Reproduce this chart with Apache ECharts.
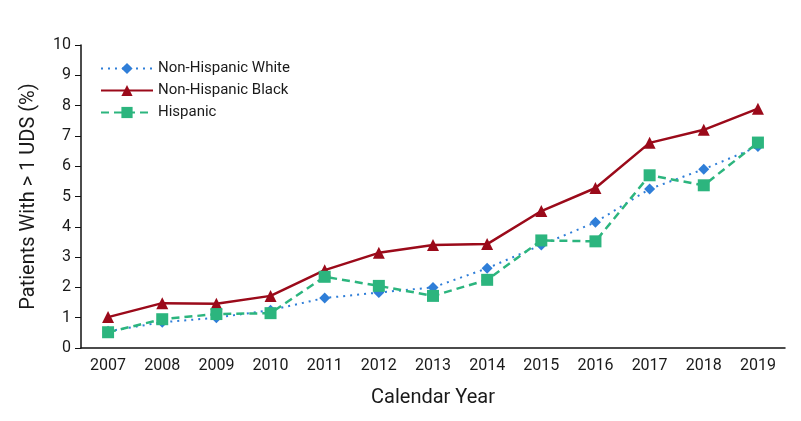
<!DOCTYPE html>
<html><head><meta charset="utf-8">
<script src="https://cdn.jsdelivr.net/npm/echarts@6/dist/echarts.min.js"></script>
<style>html,body{margin:0;padding:0;background:#fff}#c{width:801px;height:421px}</style>
</head><body><div id="c"></div>
<script>
const years = ['2007','2008','2009','2010','2011','2012','2013','2014','2015','2016','2017','2018','2019'];
const white = [0.55,0.85,1.0,1.25,1.65,1.83,2.0,2.63,3.4,4.15,5.25,5.9,6.65];
const black = [1.02,1.48,1.46,1.72,2.57,3.14,3.4,3.43,4.52,5.28,6.77,7.2,7.9];
const hispanic = [0.52,0.95,1.12,1.15,2.35,2.05,1.72,2.25,3.55,3.52,5.7,5.37,6.78];
const F = 'Roboto, "Liberation Sans", sans-serif';
const chart = echarts.init(document.getElementById('c'));
chart.setOption({
  animation:false,
  grid:{left:81,right:16,top:45,bottom:73},
  legend:{left:95,top:56,orient:'vertical',itemWidth:52,itemHeight:14,itemGap:7,
    textStyle:{fontFamily:F,fontSize:15,color:'#1a1a1a'},
    data:['Non-Hispanic White','Non-Hispanic Black','Hispanic']},
  xAxis:{type:'category',data:years,boundaryGap:true,
    name:'Calendar Year',nameLocation:'middle',nameGap:40,
    nameTextStyle:{fontFamily:F,fontSize:20,color:'#1a1a1a'},
    axisLine:{lineStyle:{color:'#111',width:1.5}},axisTick:{show:false},
    axisLabel:{fontFamily:F,fontSize:16,color:'#1a1a1a',margin:10}},
  yAxis:{type:'value',min:0,max:10,interval:1,
    name:'Patients With > 1 UDS (%)',nameLocation:'middle',nameGap:42,
    nameTextStyle:{fontFamily:F,fontSize:20,color:'#1a1a1a'},
    axisLine:{show:true,lineStyle:{color:'#111',width:1.5}},
    axisTick:{show:true,length:6,lineStyle:{color:'#111'}},
    splitLine:{show:false},
    axisLabel:{fontFamily:F,fontSize:16,color:'#1a1a1a',margin:10}},
  series:[
    {name:'Non-Hispanic White',type:'line',data:white,symbol:'diamond',symbolSize:11,
      itemStyle:{color:'#2f7ed8'},lineStyle:{color:'#2f7ed8',width:2,type:[2,5]}},
    {name:'Non-Hispanic Black',type:'line',data:black,symbol:'triangle',symbolSize:12,
      itemStyle:{color:'#9b0a1a'},lineStyle:{color:'#9b0a1a',width:2.5}},
    {name:'Hispanic',type:'line',data:hispanic,symbol:'rect',symbolSize:12,
      itemStyle:{color:'#2cb57e'},lineStyle:{color:'#2cb57e',width:2.5,type:[8,5]}}
  ]
});
</script></body></html>
